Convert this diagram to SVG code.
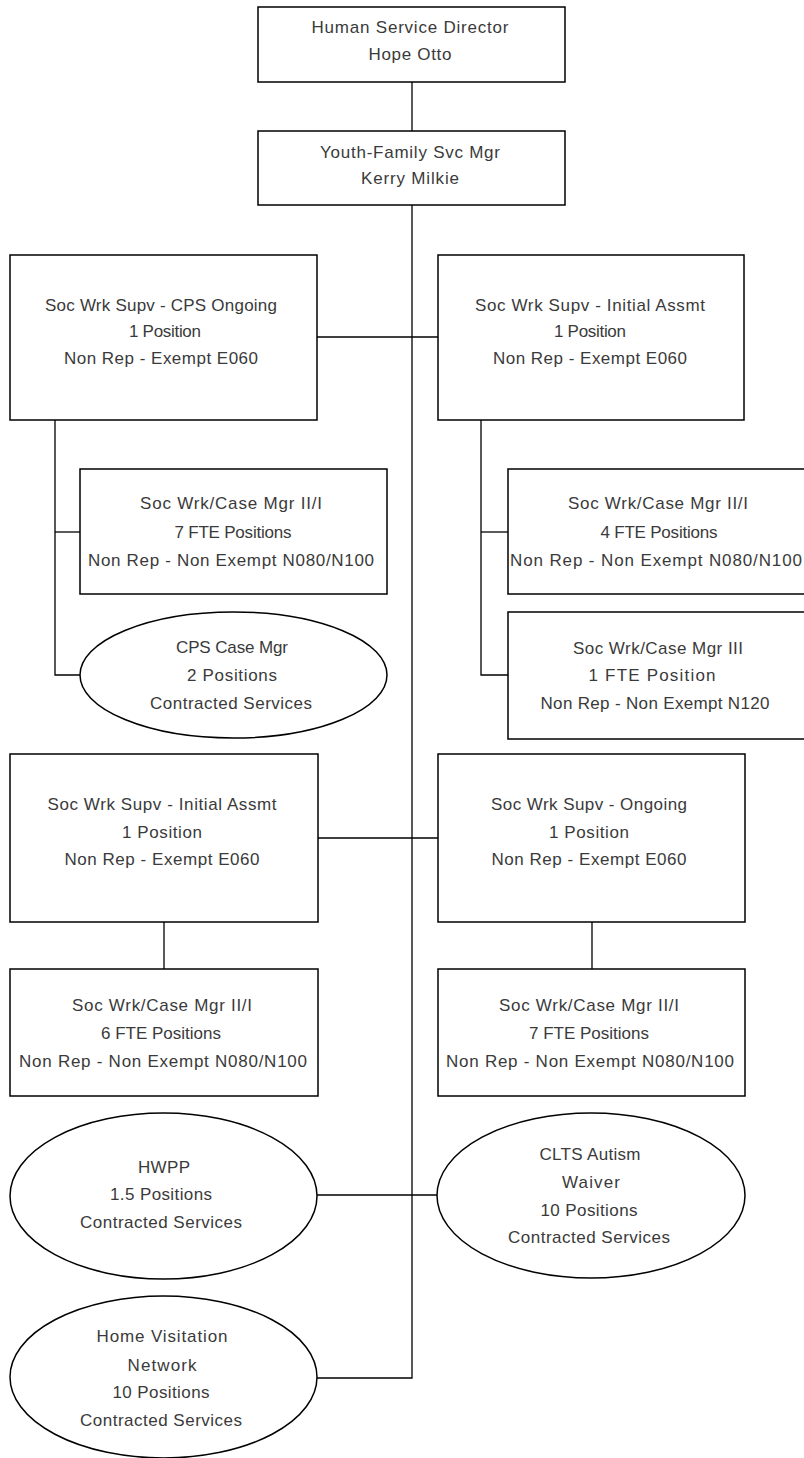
<svg xmlns="http://www.w3.org/2000/svg" width="804" height="1458" viewBox="0 0 804 1458">
  <style>
    .box { fill: #ffffff; stroke: #000000; stroke-width: 1.5; }
    .wire { fill: none; stroke: #000000; stroke-width: 1.3; }
    text { font-family: "Liberation Sans", Arial, sans-serif; font-size: 17px; fill: #3a3a3a; text-anchor: middle; }
  </style>
  <rect width="804" height="1458" fill="#ffffff"/>

  <!-- reporting lines -->
  <g id="connectors">
    <line class="wire" x1="412" y1="82" x2="412" y2="131"/>
    <polyline class="wire" points="412,205 412,1378 317,1378"/>
    <line class="wire" x1="317" y1="337" x2="438" y2="337"/>
    <polyline class="wire" points="55,420 55,675 80,675"/>
    <line class="wire" x1="55" y1="532" x2="80" y2="532"/>
    <polyline class="wire" points="481,420 481,675 508,675"/>
    <line class="wire" x1="481" y1="532" x2="508" y2="532"/>
    <line class="wire" x1="318" y1="838" x2="438" y2="838"/>
    <line class="wire" x1="164" y1="922" x2="164" y2="969"/>
    <line class="wire" x1="592" y1="922" x2="592" y2="969"/>
    <line class="wire" x1="317" y1="1195" x2="437" y2="1195"/>
  </g>

  <g id="director">
    <rect class="box" x="258" y="7" width="307" height="75"/>
    <text x="410" y="33" textLength="197" lengthAdjust="spacing">Human Service Director</text>
    <text x="410" y="60" textLength="83" lengthAdjust="spacing">Hope Otto</text>
  </g>

  <g id="manager">
    <rect class="box" x="258" y="131" width="307" height="74"/>
    <text x="410" y="158" textLength="180" lengthAdjust="spacing">Youth-Family Svc Mgr</text>
    <text x="410" y="184" textLength="98" lengthAdjust="spacing">Kerry Milkie</text>
  </g>

  <g id="supv-cps-ongoing">
    <rect class="box" x="10" y="255" width="307" height="165"/>
    <text x="161" y="311" textLength="232" lengthAdjust="spacing">Soc Wrk Supv - CPS Ongoing</text>
    <text x="165" y="337" textLength="72" lengthAdjust="spacing">1 Position</text>
    <text x="161" y="364" textLength="194" lengthAdjust="spacing">Non Rep - Exempt E060</text>
  </g>

  <g id="supv-initial-1">
    <rect class="box" x="438" y="255" width="306" height="165"/>
    <text x="590" y="311" textLength="230" lengthAdjust="spacing">Soc Wrk Supv - Initial Assmt</text>
    <text x="590" y="337" textLength="72" lengthAdjust="spacing">1 Position</text>
    <text x="590" y="364" textLength="194" lengthAdjust="spacing">Non Rep - Exempt E060</text>
  </g>

  <g id="casemgr-7-cps">
    <rect class="box" x="80" y="469" width="307" height="125"/>
    <text x="231" y="509" textLength="182" lengthAdjust="spacing">Soc Wrk/Case Mgr II/I</text>
    <text x="233" y="538" textLength="117" lengthAdjust="spacing">7 FTE Positions</text>
    <text x="231" y="566" textLength="286" lengthAdjust="spacing">Non Rep - Non Exempt N080/N100</text>
  </g>

  <g id="cps-case-mgr">
    <ellipse class="box" cx="233.5" cy="675" rx="153.5" ry="63"/>
    <text x="232" y="653" textLength="112" lengthAdjust="spacing">CPS Case Mgr</text>
    <text x="232" y="681" textLength="90" lengthAdjust="spacing">2 Positions</text>
    <text x="231" y="709" textLength="162" lengthAdjust="spacing">Contracted Services</text>
  </g>

  <g id="casemgr-4">
    <rect class="box" x="508" y="469" width="307" height="125"/>
    <text x="658" y="509" textLength="180" lengthAdjust="spacing">Soc Wrk/Case Mgr II/I</text>
    <text x="659" y="538" textLength="117" lengthAdjust="spacing">4 FTE Positions</text>
    <text x="656" y="566" textLength="292" lengthAdjust="spacing">Non Rep - Non Exempt N080/N100</text>
  </g>

  <g id="casemgr-3">
    <rect class="box" x="508" y="612" width="307" height="127"/>
    <text x="658" y="654" textLength="170" lengthAdjust="spacing">Soc Wrk/Case Mgr III</text>
    <text x="652" y="681" textLength="127" lengthAdjust="spacing">1 FTE Position</text>
    <text x="655" y="709" textLength="229" lengthAdjust="spacing">Non Rep - Non Exempt N120</text>
  </g>

  <g id="supv-initial-2">
    <rect class="box" x="10" y="754" width="308" height="168"/>
    <text x="162" y="810" textLength="229" lengthAdjust="spacing">Soc Wrk Supv - Initial Assmt</text>
    <text x="162" y="838" textLength="80" lengthAdjust="spacing">1 Position</text>
    <text x="162" y="865" textLength="195" lengthAdjust="spacing">Non Rep - Exempt E060</text>
  </g>

  <g id="supv-ongoing">
    <rect class="box" x="438" y="754" width="307" height="168"/>
    <text x="589" y="810" textLength="196" lengthAdjust="spacing">Soc Wrk Supv - Ongoing</text>
    <text x="589" y="838" textLength="80" lengthAdjust="spacing">1 Position</text>
    <text x="589" y="865" textLength="195" lengthAdjust="spacing">Non Rep - Exempt E060</text>
  </g>

  <g id="casemgr-6">
    <rect class="box" x="10" y="969" width="308" height="127"/>
    <text x="162" y="1011" textLength="180" lengthAdjust="spacing">Soc Wrk/Case Mgr II/I</text>
    <text x="161" y="1039" textLength="120" lengthAdjust="spacing">6 FTE Positions</text>
    <text x="163" y="1067" textLength="288" lengthAdjust="spacing">Non Rep - Non Exempt N080/N100</text>
  </g>

  <g id="casemgr-7-ongoing">
    <rect class="box" x="438" y="969" width="307" height="127"/>
    <text x="589" y="1011" textLength="180" lengthAdjust="spacing">Soc Wrk/Case Mgr II/I</text>
    <text x="589" y="1039" textLength="120" lengthAdjust="spacing">7 FTE Positions</text>
    <text x="590" y="1067" textLength="288" lengthAdjust="spacing">Non Rep - Non Exempt N080/N100</text>
  </g>

  <g id="hwpp">
    <ellipse class="box" cx="163.5" cy="1196" rx="153.5" ry="83"/>
    <text x="164" y="1173" textLength="52" lengthAdjust="spacing">HWPP</text>
    <text x="161" y="1200" textLength="102" lengthAdjust="spacing">1.5 Positions</text>
    <text x="161" y="1228" textLength="162" lengthAdjust="spacing">Contracted Services</text>
  </g>

  <g id="clts-autism">
    <ellipse class="box" cx="591" cy="1195.5" rx="154" ry="82.5"/>
    <text x="590" y="1160" textLength="101" lengthAdjust="spacing">CLTS Autism</text>
    <text x="591" y="1188" textLength="58" lengthAdjust="spacing">Waiver</text>
    <text x="589" y="1216" textLength="97" lengthAdjust="spacing">10 Positions</text>
    <text x="589" y="1243" textLength="162" lengthAdjust="spacing">Contracted Services</text>
  </g>

  <g id="home-visitation">
    <ellipse class="box" cx="163.5" cy="1377" rx="153.5" ry="81"/>
    <text x="162" y="1342" textLength="131" lengthAdjust="spacing">Home Visitation</text>
    <text x="162" y="1371" textLength="69" lengthAdjust="spacing">Network</text>
    <text x="161" y="1398" textLength="97" lengthAdjust="spacing">10 Positions</text>
    <text x="161" y="1426" textLength="162" lengthAdjust="spacing">Contracted Services</text>
  </g>
</svg>
